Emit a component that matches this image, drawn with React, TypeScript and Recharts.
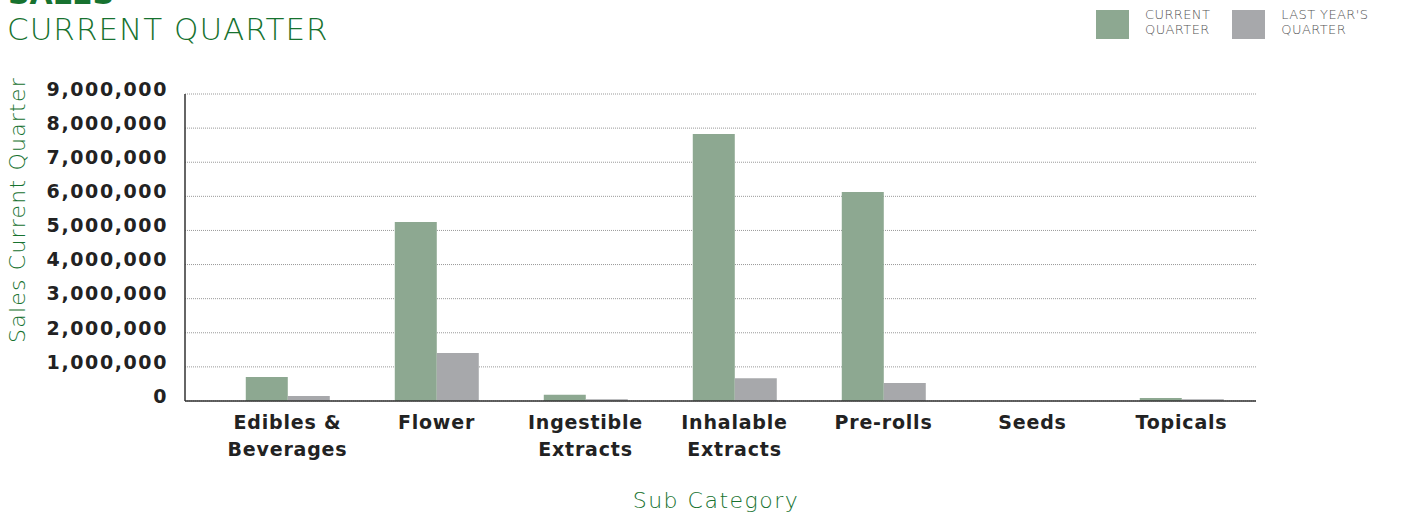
import React from 'react';
import { BarChart, Bar, XAxis, YAxis, CartesianGrid } from 'recharts';

const categories = ['Edibles & Beverages', 'Flower', 'Ingestible Extracts', 'Inhalable Extracts', 'Pre-rolls', 'Seeds', 'Topicals'];
const currentQuarter = [700000, 5250000, 180000, 7830000, 6130000, 0, 90000];
const lastYearQuarter = [150000, 1410000, 50000, 670000, 530000, 0, 50000];
const yTicks = [0, 1000000, 2000000, 3000000, 4000000, 5000000, 6000000, 7000000, 8000000, 9000000];

const data = categories.map((name, i) => ({
  name,
  current: currentQuarter[i],
  last: lastYearQuarter[i],
}));

const GREEN = '#8da891';
const GRAY = '#a7a8ab';
const TITLE_GREEN = '#17722f';
const FONT = "'DejaVu Sans', sans-serif";

// split a category name into two lines at its last space
const splitLabel = (s: string) => {
  const i = s.lastIndexOf(' ');
  return i < 0 ? [s] : [s.slice(0, i), s.slice(i + 1)];
};

const XTick = (props: any) => {
  const { x, y, payload } = props;
  const lines = splitLabel(payload.value);
  return (
    <text x={x} y={y} textAnchor="middle" fill="#222" fontFamily={FONT} fontWeight="bold" fontSize={19} letterSpacing={0.8}>
      {lines.map((l, i) => (
        <tspan key={i} x={x} dy={i === 0 ? 20 : 27}>{l}</tspan>
      ))}
    </text>
  );
};

const legendItems = [
  { c: GREEN, t: ['CURRENT', 'QUARTER'] },
  { c: GRAY, t: ["LAST YEAR'S", 'QUARTER'] },
];

const LegendBox = () => (
  <div style={{ position: 'absolute', top: 10, left: 1096, display: 'flex', fontFamily: FONT, fontSize: 13, color: '#555', fontWeight: 200 }}>
    {legendItems.map((it, i) => (
      <div key={i} style={{ display: 'flex', alignItems: 'flex-start', marginRight: 22 }}>
        <div style={{ width: 33, height: 29, background: it.c, marginRight: 16 }} />
        <div style={{ lineHeight: '15px', marginTop: -3, letterSpacing: 0.4 }}>
          <div>{it.t[0]}</div>
          <div>{it.t[1]}</div>
        </div>
      </div>
    ))}
  </div>
);

export default function App() {
  return (
    <div style={{ position: 'absolute', left: 0, top: 0, width: 1412, height: 515, background: '#fff' }}>
      <BarChart
        width={1412}
        height={515}
        data={data}
        margin={{ top: 94, right: 156, bottom: 54, left: 0 }}
        barCategoryGap="22%"
        barGap={0}
      >
        <CartesianGrid vertical={false} stroke="#999" strokeDasharray="1 1" />
        <XAxis
          dataKey="name"
          height={60}
          padding={{ left: 28, right: 0 }}
          tick={<XTick />}
          tickLine={false}
          axisLine={{ stroke: '#333', strokeWidth: 1.5 }}
          interval={0}
        />
        <YAxis
          width={185}
          domain={[0, 9000000]}
          ticks={yTicks}
          interval={0}
          tickFormatter={(v: number) => v.toLocaleString('en-US')}
          tick={{ fill: '#222', fontSize: 19, fontWeight: 'bold', fontFamily: FONT, dy: -5, letterSpacing: 1.6 }}
          tickLine={false}
          tickSize={6}
          tickMargin={11}
          axisLine={{ stroke: '#333', strokeWidth: 1.5 }}
        />
        <Bar dataKey="current" name="Current Quarter" fill={GREEN} isAnimationActive={false} />
        <Bar dataKey="last" name="Last Year's Quarter" fill={GRAY} isAnimationActive={false} />
      </BarChart>
      <LegendBox />
      <svg width={1412} height={515} style={{ position: 'absolute', left: 0, top: 0, pointerEvents: 'none' }}>
        <text x={8} y={4} fill={TITLE_GREEN} fontFamily={FONT} fontWeight="bold" fontSize={30}>SALES</text>
        <text x={7} y={40} fill={TITLE_GREEN} fontFamily={FONT} fontWeight={200} fontSize={31} letterSpacing={1}>CURRENT QUARTER</text>
        <text x={25} y={210} transform="rotate(-90, 25, 210)" textAnchor="middle" fill={TITLE_GREEN} fontFamily={FONT} fontWeight={200} fontSize={22} letterSpacing={1.2}>Sales Current Quarter</text>
        <text x={716} y={508} textAnchor="middle" fill={TITLE_GREEN} fontFamily={FONT} fontWeight={200} fontSize={22} letterSpacing={1.5}>Sub Category</text>
      </svg>
    </div>
  );
}
